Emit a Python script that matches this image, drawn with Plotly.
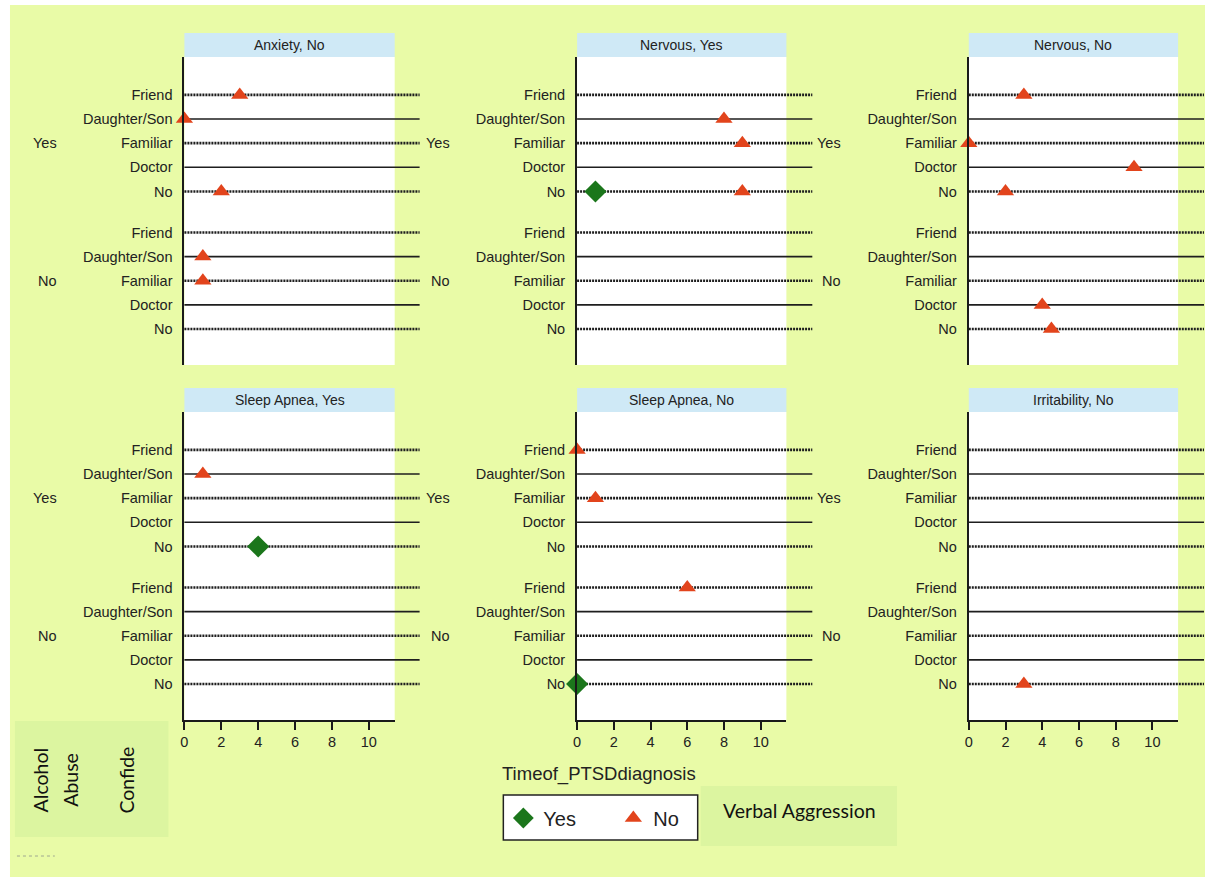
import plotly.graph_objects as go

W, H = 1205, 877

# ---------------- data ----------------
confide_levels = ["Friend", "Daughter/Son", "Familiar", "Doctor", "No"]
alcohol_levels = ["Yes", "No"]
panel_titles = ["Anxiety, No", "Nervous, Yes", "Nervous, No",
                "Sleep Apnea, Yes", "Sleep Apnea, No", "Irritability, No"]
x_ticks = [0, 2, 4, 6, 8, 10]
diag_levels = ["Yes", "No"]

pt_panel = [0, 0, 0, 0, 0,
            1, 1, 1, 1,
            2, 2, 2, 2, 2, 2,
            3, 3,
            4, 4, 4, 4,
            5]
pt_alcohol = ["Yes", "Yes", "Yes", "No", "No",
              "Yes", "Yes", "Yes", "Yes",
              "Yes", "Yes", "Yes", "Yes", "No", "No",
              "Yes", "Yes",
              "Yes", "Yes", "No", "No",
              "No"]
pt_confide = ["Friend", "Daughter/Son", "No", "Daughter/Son", "Familiar",
              "Daughter/Son", "Familiar", "No", "No",
              "Friend", "Familiar", "Doctor", "No", "Doctor", "No",
              "Daughter/Son", "No",
              "Friend", "Familiar", "Friend", "No",
              "No"]
pt_time = [3, 0, 2, 1, 1,
           8, 9, 1, 9,
           3, 0, 9, 2, 4, 4.5,
           1, 4,
           0, 1, 6, 0,
           3]
pt_diag = ["No", "No", "No", "No", "No",
           "No", "No", "Yes", "No",
           "No", "No", "No", "No", "No", "No",
           "No", "Yes",
           "No", "No", "No", "Yes",
           "No"]

# ---------------- style / layout ----------------
GROUP_STEP = 5.7
BG = "#e9fba7"
BOX = "#dcf5a0"
STRIP = "#cfe9f6"
INK = "#1a1a1a"
FONT = "Liberation Sans, Arial, sans-serif"
CAL = "Lato, Open Sans, sans-serif"
marker_style = {
    "Yes": dict(symbol="diamond", color="#1b761b", size=17),
    "No": dict(symbol="triangle-up", color="#e2441c", size=15),
}
SHIFT = 1

def X(px):
    return (px - SHIFT) / W

def Y(py):
    return 1 - py / H

col_px = [(182, 393), (576, 786), (969, 1179)]
row_px = [(57, 365), (412, 720)]

def ypos(alc, conf):
    return alcohol_levels.index(alc) * GROUP_STEP + confide_levels.index(conf)

tickvals = [ypos(a, c) for a in alcohol_levels for c in confide_levels]
ticktext = [c for a in alcohol_levels for c in confide_levels]

fig = go.Figure()
shapes = []
annotations = []

# background
shapes.append(dict(type="rect", xref="paper", yref="paper", x0=X(7), x1=1.02,
                   y0=-0.01, y1=Y(5), fillcolor=BG, line_width=0, layer="below"))
shapes.append(dict(type="rect", xref="paper", yref="paper", x0=X(12), x1=X(166),
                   y0=Y(837), y1=Y(721), fillcolor=BOX, line_width=0, layer="below"))
shapes.append(dict(type="rect", xref="paper", yref="paper", x0=X(700), x1=X(897),
                   y0=Y(846), y1=Y(786), fillcolor=BOX, line_width=0, layer="below"))
shapes.append(dict(type="rect", xref="paper", yref="paper", x0=X(502), x1=X(697),
                   y0=Y(840), y1=Y(795), fillcolor="white",
                   line=dict(color="#222", width=1.5), layer="below"))
shapes.append(dict(type="line", xref="paper", yref="paper", x0=X(14), x1=X(52),
                   y0=Y(856), y1=Y(856), line=dict(color="#a0a890", width=1, dash="dot"),
                   layer="below"))

layout_axes = {}
for p, title in enumerate(panel_titles):
    r, c = divmod(p, 3)
    k = p + 1
    xa = "x" if k == 1 else f"x{k}"
    ya = "y" if k == 1 else f"y{k}"
    xl = "xaxis" if k == 1 else f"xaxis{k}"
    yl = "yaxis" if k == 1 else f"yaxis{k}"
    x0p, x1p = col_px[c]
    y0p, y1p = row_px[r]
    dom_w = x1p - x0p
    dom_h = y1p - y0p
    bottom = (r == 1)
    layout_axes[xl] = dict(
        domain=[X(x0p), X(x1p)], anchor=ya, range=[0, 11.4],
        showgrid=False, zeroline=False,
        showline=bottom, linecolor=INK, linewidth=2,
        ticks="outside" if bottom else "", ticklen=8, tickwidth=2, tickcolor=INK,
        tickvals=x_ticks, showticklabels=bottom,
        tickfont=dict(family=FONT, size=14.5, color="#222"),
        fixedrange=True,
    )
    layout_axes[yl] = dict(
        domain=[Y(y1p), Y(y0p)], anchor=xa,
        range=[tickvals[-1] + 1.49, -1.57],
        showgrid=False, zeroline=False,
        showline=True, linecolor=INK, linewidth=2,
        ticks="", tickvals=tickvals, ticktext=ticktext,
        ticklabelstandoff=7,
        tickfont=dict(family=FONT, size=14.5, color="#222"),
        fixedrange=True,
    )
    # white panel and strip
    shapes.append(dict(type="rect", xref=f"{xa} domain", yref=f"{ya} domain",
                       x0=0, x1=1, y0=0, y1=1, fillcolor="white", line_width=0, layer="below"))
    shapes.append(dict(type="rect", xref=f"{xa} domain", yref=f"{ya} domain",
                       x0=0, x1=1, y0=1, y1=1 + 24 / dom_h, fillcolor=STRIP, line_width=0,
                       layer="below"))
    annotations.append(dict(text=title, xref=f"{xa} domain", yref=f"{ya} domain",
                            x=0.5, y=1 + 12 / dom_h, showarrow=False, xanchor="center",
                            yanchor="middle", font=dict(family=FONT, size=14, color="#222")))
    # reference lines
    for a in alcohol_levels:
        for ci, cf in enumerate(confide_levels):
            dotted = ci % 2 == 0
            shapes.append(dict(
                type="line", xref=f"{xa} domain", yref=ya,
                x0=0, x1=236 / dom_w, y0=ypos(a, cf), y1=ypos(a, cf),
                line=dict(color="#1e1e1e", width=2.6 if dotted else 1.6,
                          dash="2px,1px" if dotted else "solid"),
                layer="below"))
        annotations.append(dict(text=a, xref=f"{xa} domain", yref=ya,
                                x=-126 / dom_w, y=ypos(a, "Familiar"), showarrow=False,
                                xanchor="right", yanchor="middle",
                                font=dict(family=FONT, size=14.5, color="#222")))
    # markers
    for d in diag_levels:
        idx = [i for i in range(len(pt_panel)) if pt_panel[i] == p and pt_diag[i] == d]
        if not idx:
            continue
        ms = marker_style[d]
        fig.add_trace(go.Scatter(
            x=[pt_time[i] for i in idx],
            y=[ypos(pt_alcohol[i], pt_confide[i]) for i in idx],
            xaxis=xa, yaxis=ya, mode="markers", name=d,
            legendgroup=d, legendrank=diag_levels.index(d) + 1,
            showlegend=(p == 0 and d == "No") or (p == 1 and d == "Yes"),
            cliponaxis=False,
            marker=dict(symbol=ms["symbol"], color=ms["color"], size=ms["size"],
                        line=dict(width=0)),
        ))

# free texts
annotations.append(dict(text="Timeof_PTSDdiagnosis", xref="paper", yref="paper",
                        x=X(499), y=Y(774), xanchor="left", yanchor="middle",
                        showarrow=False, font=dict(family=FONT, size=18.5, color="#222")))
annotations.append(dict(text="Verbal Aggression", xref="paper", yref="paper",
                        x=X(799), y=Y(810), xanchor="center", yanchor="middle",
                        showarrow=False, font=dict(family=CAL, size=19.5, color="#111")))
for txt, cx in [("Alcohol", 37.5), ("Abuse", 67), ("Confide", 123)]:
    annotations.append(dict(text=txt, xref="paper", yref="paper", x=X(cx), y=Y(780),
                            xanchor="center", yanchor="middle", textangle=-90,
                            showarrow=False, font=dict(family=CAL, size=19.5, color="#111")))

fig.update_layout(
    width=W, height=H,
    margin=dict(l=0, r=0, t=0, b=0),
    paper_bgcolor="white", plot_bgcolor="white",
    shapes=shapes, annotations=annotations,
    legend=dict(orientation="h", x=X(502), y=Y(818), xanchor="left", yanchor="middle",
                bgcolor="rgba(0,0,0,0)", borderwidth=0,
                font=dict(family=FONT, size=20, color="#222"),
                entrywidth=65, itemwidth=30),
    **layout_axes,
)

fig.write_html("out.html")
